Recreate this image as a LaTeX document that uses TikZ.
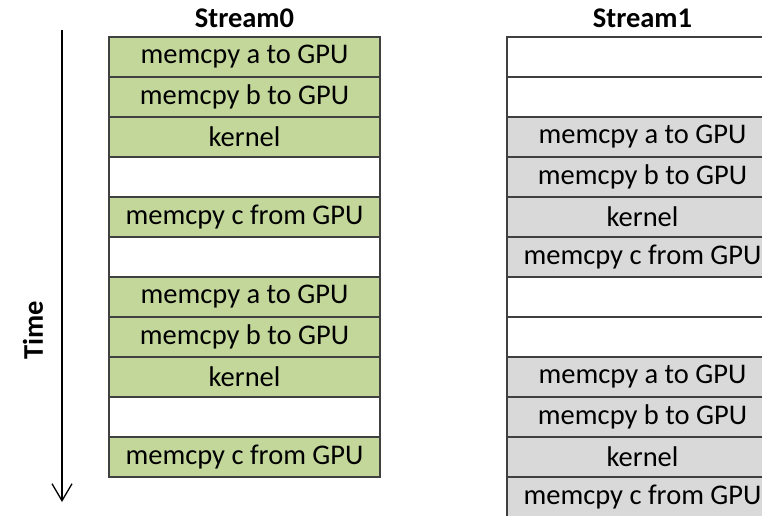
\documentclass[tikz,border=0pt]{standalone}
\usepackage{fontspec}
\setmainfont{Carlito}
\usetikzlibrary{positioning,arrows.meta}
\definecolor{busy0}{RGB}{196,215,155}
\definecolor{busy1}{RGB}{217,217,217}
\definecolor{edge}{RGB}{64,64,64}
\tikzstyle{slot} = [rectangle, draw=edge, line width=1.6pt, minimum width=271pt, minimum height=40pt, inner sep=0pt, outer sep=0pt, text centered, font=\fontsize{28.5}{30}\selectfont]
\tikzstyle{gslot} = [slot, fill=busy0]
\tikzstyle{yslot} = [slot, fill=busy1]
\tikzstyle{wslot} = [slot, fill=white]
\tikzstyle{head} = [font=\fontsize{28.5}{30}\selectfont\bfseries, inner sep=0pt]

\begin{document}
\begin{tikzpicture}[x=1pt, y=-1pt]
\clip (0,0) rectangle (762,515);

% stream 0
\node (A1) [gslot] at (244.5,57) {memcpy a to GPU};
\node (A2) [gslot, below=0pt of A1] {memcpy b to GPU};
\node (A3) [gslot, below=0pt of A2] {kernel};
\node (A4) [wslot, below=0pt of A3] {};
\node (A5) [gslot, below=0pt of A4] {memcpy c from GPU};
\node (A6) [wslot, below=0pt of A5] {};
\node (A7) [gslot, below=0pt of A6] {memcpy a to GPU};
\node (A8) [gslot, below=0pt of A7] {memcpy b to GPU};
\node (A9) [gslot, below=0pt of A8] {kernel};
\node (A10) [wslot, below=0pt of A9] {};
\node (A11) [gslot, below=0pt of A10] {memcpy c from GPU};

% stream 1
\node (B1) [wslot] at (642.5,57) {};
\node (B2) [wslot, below=0pt of B1] {};
\node (B3) [yslot, below=0pt of B2] {memcpy a to GPU};
\node (B4) [yslot, below=0pt of B3] {memcpy b to GPU};
\node (B5) [yslot, below=0pt of B4] {kernel};
\node (B6) [yslot, below=0pt of B5] {memcpy c from GPU};
\node (B7) [wslot, below=0pt of B6] {};
\node (B8) [wslot, below=0pt of B7] {};
\node (B9) [yslot, below=0pt of B8] {memcpy a to GPU};
\node (B10) [yslot, below=0pt of B9] {memcpy b to GPU};
\node (B11) [yslot, below=0pt of B10] {kernel};
\node (B12) [yslot, below=0pt of B11] {memcpy c from GPU};

\node (S0) [head, above=9pt of A1] {Stream0};
\node (S1) [head, above=9pt of B1] {Stream1};

% time axis
\coordinate (t0) at (62,30);
\coordinate (t1) at (62,502);
\draw [line width=1.3pt, -{Straight Barb[length=17pt, width=20pt]}] (t0) -- (t1);
\node (T) [head, rotate=90] at (33,330) {Time};
\end{tikzpicture}
\end{document}
